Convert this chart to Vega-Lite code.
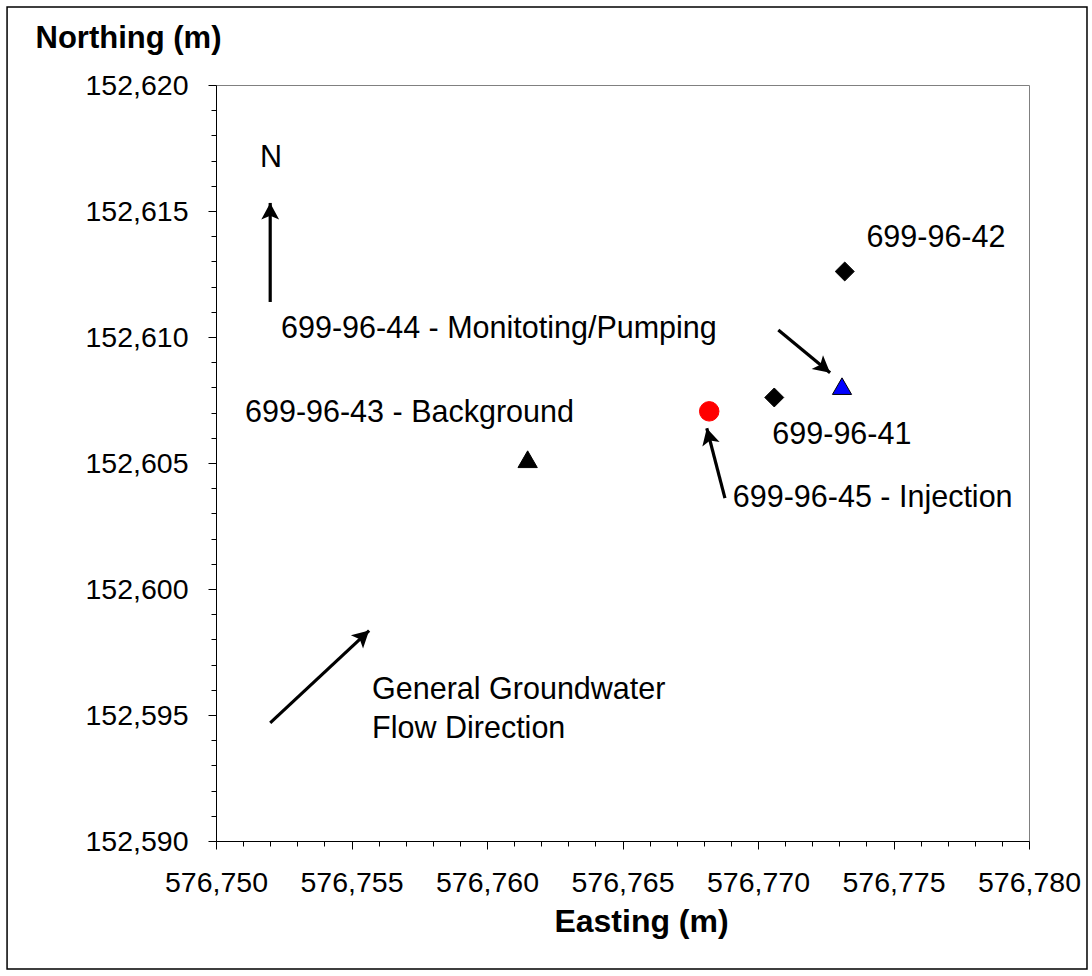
{
  "$schema": "https://vega.github.io/schema/vega-lite/v6.json",
  "width": 813,
  "height": 756,
  "autosize": "none",
  "padding": {"left": 216, "top": 85, "right": 63, "bottom": 135},
  "background": "white",
  "config": {
    "view": {"stroke": "#808080", "strokeWidth": 1},
    "font": "Liberation Sans",
    "text": {"font": "Liberation Sans"}
  },
  "datasets": {
    "wells": [
      {"well": "699-96-42", "type": "Monitoring", "easting": 576773.2, "northing": 152612.6},
      {"well": "699-96-41", "type": "Monitoring", "easting": 576770.6, "northing": 152607.6},
      {"well": "699-96-44", "type": "Monitoring/Pumping", "easting": 576773.1, "northing": 152608.05},
      {"well": "699-96-43", "type": "Background", "easting": 576761.5, "northing": 152605.15},
      {"well": "699-96-45", "type": "Injection", "easting": 576768.2, "northing": 152607.05}
    ],
    "labels": [
      {"text": "699-96-42", "easting": 576774.0, "northing": 152613.93},
      {"text": "699-96-44 - Monitoting/Pumping", "easting": 576752.4, "northing": 152610.32},
      {"text": "699-96-43 - Background", "easting": 576751.07, "northing": 152606.98},
      {"text": "699-96-41", "easting": 576770.53, "northing": 152606.11},
      {"text": "699-96-45 - Injection", "easting": 576769.07, "northing": 152603.61},
      {"text": "General Groundwater", "easting": 576755.76, "northing": 152596.0},
      {"text": "Flow Direction", "easting": 576755.76, "northing": 152594.44}
    ],
    "compass": [
      {"text": "N", "easting": 576752.03, "northing": 152617.1}
    ],
    "arrows": [
      {"arrow": "north", "easting": 576752.0, "northing": 152611.39, "easting2": 576752.0, "northing2": 152615.32, "heading": 0},
      {"arrow": "groundwater flow", "easting": 576752.0, "northing": 152594.69, "easting2": 576755.65, "northing2": 152598.35, "heading": 47.1},
      {"arrow": "699-96-44", "easting": 576770.75, "northing": 152610.28, "easting2": 576772.66, "northing2": 152608.58, "heading": 129.6},
      {"arrow": "699-96-45", "easting": 576768.78, "northing": 152603.61, "easting2": 576768.11, "northing2": 152606.38, "heading": 345.3}
    ],
    "frame": [
      {"x1": 576742.29, "x2": 576782.14, "y1": 152584.92, "y2": 152623.1}
    ]
  },
  "layer": [
    {
      "data": {"name": "frame"},
      "mark": {"type": "rect", "fill": null, "stroke": "black", "strokeWidth": 1.5, "clip": false},
      "encoding": {
        "x": {"field": "x1", "type": "quantitative", "scale": {"domain": [576750, 576780], "zero": false, "nice": false},
          "axis": {
            "values": [576750,576751,576752,576753,576754,576755,576756,576757,576758,576759,576760,576761,576762,576763,576764,576765,576766,576767,576768,576769,576770,576771,576772,576773,576774,576775,576776,576777,576778,576779,576780],
            "tickCount": 60,
            "labelExpr": "datum.value % 5 === 0 ? format(datum.value, ',') : ''",
            "labelFontSize": 28.5, "labelFont": "Liberation Sans", "labelColor": "black",
            "labelOverlap": false, "labelFlush": false, "labelPadding": 19,
            "tickSize": {"condition": {"test": "datum.value % 5 === 0", "value": 8}, "value": 5},
            "tickColor": "black", "domainColor": "black", "grid": false,
            "title": "Easting (m)", "titleFontSize": 32, "titleFont": "Liberation Sans", "titleFontWeight": "bold", "titleColor": "black",
            "titleX": 425, "titleY": 90, "titleBaseline": "alphabetic"
          }
        },
        "x2": {"field": "x2"},
        "y": {"field": "y1", "type": "quantitative", "scale": {"domain": [152590, 152620], "zero": false, "nice": false},
          "axis": {
            "values": [152590,152591,152592,152593,152594,152595,152596,152597,152598,152599,152600,152601,152602,152603,152604,152605,152606,152607,152608,152609,152610,152611,152612,152613,152614,152615,152616,152617,152618,152619,152620],
            "tickCount": 60,
            "labelExpr": "datum.value % 5 === 0 ? format(datum.value, ',') : ''",
            "labelFontSize": 28.5, "labelFont": "Liberation Sans", "labelColor": "black",
            "labelOverlap": false, "labelFlush": false, "labelPadding": 20,
            "tickSize": {"condition": {"test": "datum.value % 5 === 0", "value": 8}, "value": 5},
            "tickColor": "black", "domainColor": "black", "grid": false,
            "title": "Northing (m)", "titleFontSize": 31, "titleFont": "Liberation Sans", "titleFontWeight": "bold", "titleColor": "black",
            "titleAngle": 0, "titleAlign": "left", "titleBaseline": "alphabetic", "titleX": -181, "titleY": -38
          }
        },
        "y2": {"field": "y2"}
      }
    },
    {
      "data": {"name": "arrows"},
      "mark": {"type": "rule", "strokeWidth": 3.2, "color": "black"},
      "encoding": {
        "x": {"field": "easting", "type": "quantitative"},
        "y": {"field": "northing", "type": "quantitative"},
        "x2": {"field": "easting2"},
        "y2": {"field": "northing2"}
      }
    },
    {
      "data": {"name": "arrows"},
      "mark": {"type": "point", "filled": true, "color": "black", "opacity": 1, "size": 650, "shape": "M0,0L0.7,1.3L0,1.0L-0.7,1.3Z"},
      "encoding": {
        "x": {"field": "easting2", "type": "quantitative"},
        "y": {"field": "northing2", "type": "quantitative"},
        "angle": {"field": "heading", "type": "quantitative", "scale": null}
      }
    },
    {
      "data": {"name": "wells"},
      "mark": {"type": "point", "filled": true, "opacity": 1, "strokeWidth": 1},
      "encoding": {
        "x": {"field": "easting", "type": "quantitative"},
        "y": {"field": "northing", "type": "quantitative"},
        "shape": {"field": "type", "type": "nominal", "legend": null,
          "scale": {"domain": ["Monitoring", "Monitoring/Pumping", "Background", "Injection"], "range": ["diamond", "triangle-up", "triangle-up", "circle"]}},
        "color": {"field": "type", "type": "nominal", "legend": null,
          "scale": {"domain": ["Monitoring", "Monitoring/Pumping", "Background", "Injection"], "range": ["#000000", "#0000FF", "#000000", "#FF0000"]}},
        "stroke": {"field": "type", "type": "nominal", "legend": null,
          "scale": {"domain": ["Monitoring", "Monitoring/Pumping", "Background", "Injection"], "range": ["#000000", "#000000", "#000000", "#FF0000"]}},
        "size": {"field": "type", "type": "nominal", "legend": null,
          "scale": {"domain": ["Monitoring", "Monitoring/Pumping", "Background", "Injection"], "range": [360, 380, 420, 350]}}
      }
    },
    {
      "data": {"name": "labels"},
      "mark": {"type": "text", "align": "left", "baseline": "middle", "fontSize": 30.5, "font": "Liberation Sans", "color": "black"},
      "encoding": {
        "x": {"field": "easting", "type": "quantitative"},
        "y": {"field": "northing", "type": "quantitative"},
        "text": {"field": "text"}
      }
    },
    {
      "data": {"name": "compass"},
      "mark": {"type": "text", "align": "center", "baseline": "middle", "fontSize": 30.5, "font": "Liberation Sans", "color": "black"},
      "encoding": {
        "x": {"field": "easting", "type": "quantitative"},
        "y": {"field": "northing", "type": "quantitative"},
        "text": {"field": "text"}
      }
    }
  ]
}
